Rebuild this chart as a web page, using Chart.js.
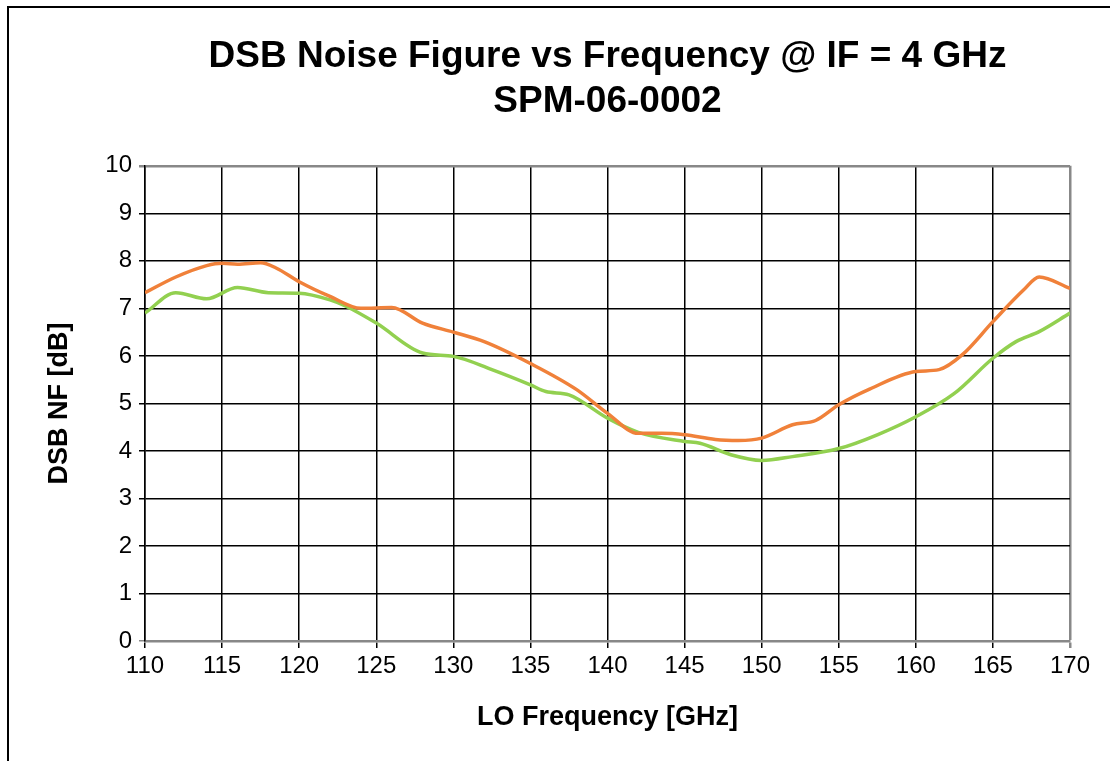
<!DOCTYPE html>
<html>
<head>
<meta charset="utf-8">
<script src="https://cdn.jsdelivr.net/npm/chart.js@4"></script>
<style>
  body { margin: 0; background: #fff; }
  #wrap { position: relative; width: 1110px; height: 761px; overflow: hidden; }
  #frame { position: absolute; left: 7px; top: 6px; width: 1200px; height: 900px;
           border-left: 2px solid #000; border-top: 2px solid #000; pointer-events: none; }
</style>
</head>
<body>
<div id="wrap">
  <canvas id="chart" width="1110" height="761"></canvas>
  <div id="frame"></div>
</div>
<script>
// LO frequency (GHz) and DSB NF (dB)
const orangeFreq = [110, 112, 114, 115, 116, 117.5, 118.5, 120, 122, 124, 126, 128, 130, 132, 135, 138, 140, 142, 143.5, 145, 147, 148.5, 150, 152, 153.5, 155, 157, 160, 161.5, 163, 165, 167, 168, 170];
const orangeNF = [7.33, 7.66, 7.90, 7.95, 7.93, 7.96, 7.85, 7.56, 7.25, 7.00, 7.02, 6.69, 6.50, 6.30, 5.84, 5.29, 4.79, 4.37, 4.37, 4.34, 4.24, 4.22, 4.27, 4.55, 4.64, 4.97, 5.30, 5.67, 5.71, 6.02, 6.72, 7.39, 7.66, 7.42];

const greenFreq = [110, 112, 114, 116, 118, 120, 122, 123, 125, 128, 130, 132.5, 135, 136, 137.5, 140, 142, 145, 146, 148, 150, 152, 155, 157.5, 160, 162.5, 165, 166.5, 168, 170];
const greenNF = [6.90, 7.33, 7.20, 7.44, 7.33, 7.32, 7.18, 7.05, 6.69, 6.06, 5.99, 5.71, 5.39, 5.25, 5.18, 4.69, 4.39, 4.20, 4.16, 3.92, 3.80, 3.88, 4.05, 4.34, 4.72, 5.21, 5.95, 6.30, 6.51, 6.90];

const titleLines = ['DSB Noise Figure vs Frequency @ IF = 4 GHz', 'SPM-06-0002'];
const xTitle = 'LO Frequency [GHz]';
const yTitle = 'DSB NF [dB]';

const toPoints = (xs, ys) => xs.map((x, i) => ({ x: x, y: ys[i] }));
const font = '"Liberation Sans", Arial, sans-serif';

const ctx = document.getElementById('chart').getContext('2d');
new Chart(ctx, {
    type: 'line',
    data: {
        datasets: [{
            label: 'orange',
            data: toPoints(orangeFreq, orangeNF),
            borderColor: '#F0813A',
            borderWidth: 3.5,
            pointRadius: 0,
            cubicInterpolationMode: 'monotone',
            fill: false
        }, {
            label: 'green',
            data: toPoints(greenFreq, greenNF),
            borderColor: '#92D050',
            borderWidth: 3.5,
            pointRadius: 0,
            cubicInterpolationMode: 'monotone',
            fill: false
        }]
    },
    options: {
        responsive: false,
        animation: false,
        layout: { padding: { left: 0, right: 40, top: 0, bottom: 0 } },
        plugins: {
            legend: { display: false },
            tooltip: { enabled: false },
            title: {
                display: true,
                text: titleLines,
                color: '#000',
                fullSize: false,
                font: { family: font, size: 37, weight: 'bold', lineHeight: 1.2 },
                padding: { top: 35, bottom: 42 }
            }
        },
        scales: {
            x: {
                type: 'linear',
                min: 110,
                max: 170,
                afterFit: s => { s.height = 120; },
                ticks: { stepSize: 5, color: '#000', padding: 4, font: { family: font, size: 24 } },
                grid: {
                    color: c => (c.tick && c.tick.value === 170) ? '#888' : '#000',
                    lineWidth: c => (c.tick && c.tick.value === 170) ? 2.5 : 1.5,
                    tickLength: 7
                },
                border: { color: '#888', width: 2.5 },
                title: {
                    display: true,
                    text: xTitle,
                    color: '#000',
                    font: { family: font, size: 27, weight: 'bold' },
                    padding: { top: 0, bottom: 27 }
                }
            },
            y: {
                min: 0,
                max: 10,
                afterFit: s => { s.width = 145; },
                ticks: { stepSize: 1, color: '#000', padding: 7, font: { family: font, size: 24 } },
                grid: {
                    color: c => (c.tick && (c.tick.value === 10 || c.tick.value === 0)) ? '#888' : '#000',
                    lineWidth: c => (c.tick && c.tick.value === 10) ? 2.5 : 1.5,
                    tickLength: 6
                },
                border: { color: '#000', width: 1.5 },
                title: {
                    display: true,
                    text: yTitle,
                    color: '#000',
                    font: { family: font, size: 27, weight: 'bold' },
                    padding: { top: 43, bottom: 0 }
                }
            }
        }
    }
});
</script>
</body>
</html>
